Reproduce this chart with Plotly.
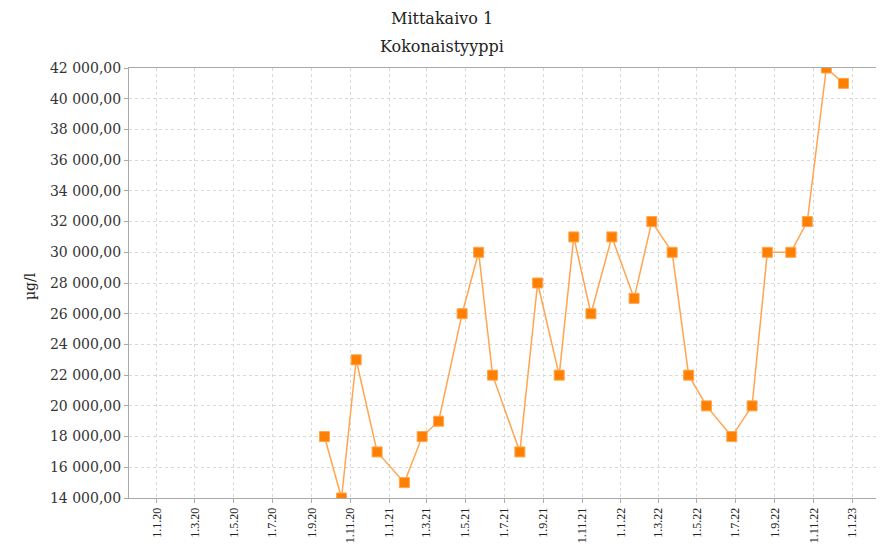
import plotly.graph_objects as go

dates = ["2020-09-21", "2020-10-18", "2020-11-10", "2020-12-13", "2021-01-25", "2021-02-22",
         "2021-03-20", "2021-04-26", "2021-05-22", "2021-06-13", "2021-07-26", "2021-08-23",
         "2021-09-26", "2021-10-19", "2021-11-15", "2021-12-18", "2022-01-22", "2022-02-19",
         "2022-03-23", "2022-04-18", "2022-05-16", "2022-06-25", "2022-07-27", "2022-08-20",
         "2022-09-26", "2022-10-22", "2022-11-21", "2022-12-18"]
values = [18000, 14000, 23000, 17000, 15000, 18000, 19000, 26000, 30000, 22000, 17000, 28000,
          22000, 31000, 26000, 31000, 27000, 32000, 30000, 22000, 20000, 18000, 20000, 30000,
          30000, 32000, 42000, 41000]

tick_dates = ["2020-01-01", "2020-03-01", "2020-05-01", "2020-07-01", "2020-09-01", "2020-11-01",
              "2021-01-01", "2021-03-01", "2021-05-01", "2021-07-01", "2021-09-01", "2021-11-01",
              "2022-01-01", "2022-03-01", "2022-05-01", "2022-07-01", "2022-09-01", "2022-11-01",
              "2023-01-01"]
tick_labels = ["1.1.20", "1.3.20", "1.5.20", "1.7.20", "1.9.20", "1.11.20",
               "1.1.21", "1.3.21", "1.5.21", "1.7.21", "1.9.21", "1.11.21",
               "1.1.22", "1.3.22", "1.5.22", "1.7.22", "1.9.22", "1.11.22",
               "1.1.23"]

title1 = "Mittakaivo 1"
title2 = "Kokonaistyyppi"
y_title = "µg/l"

FONT = "DejaVu Serif"

fig = go.Figure()
fig.add_trace(go.Scatter(
    x=dates, y=values, mode="lines+markers",
    line=dict(color="#FFA54F", width=1.5),
    marker=dict(symbol="square", size=10, color="#FF8000",
                line=dict(color="#FFA54F", width=1)),
    showlegend=False,
))

# page has an ~8px body offset; margins compensate so the plot area sits at x 129-879, y 68-498
fig.update_layout(
    width=884, height=548,
    margin=dict(l=121, r=13, t=60, b=58),
    paper_bgcolor="white", plot_bgcolor="white",
    separators=", ",
    font=dict(family=FONT, color="#333333"),
    xaxis=dict(
        type="date",
        range=["2019-11-18", "2023-02-12"],
        tickmode="array", tickvals=tick_dates, ticktext=tick_labels,
        tickangle=-90, tickfont=dict(size=12, family="Liberation Serif", color="#222222"),
        showgrid=True, gridcolor="#D9D9D9", griddash="3px,3px", gridwidth=1,
        showline=True, linecolor="#AAAAAA", linewidth=1, mirror=True,
        ticks="outside", ticklen=4, tickcolor="#AAAAAA",
        automargin=False, zeroline=False,
    ),
    yaxis=dict(
        range=[14000, 42000], dtick=2000, tick0=14000,
        tickformat=",.2f",
        tickfont=dict(size=14, family=FONT, color="#333333"),
        showgrid=True, gridcolor="#D9D9D9", griddash="3px,3px", gridwidth=1,
        showline=True, linecolor="#AAAAAA", linewidth=1, mirror=True,
        ticks="outside", ticklen=4, tickcolor="#AAAAAA",
        automargin=False, zeroline=False,
    ),
    annotations=[
        dict(text=title1, xref="paper", yref="paper", x=(442 - 129) / 750, y=(498 - 18) / 430,
             xanchor="center", yanchor="middle", showarrow=False,
             font=dict(size=16, family=FONT, color="#222222")),
        dict(text=title2, xref="paper", yref="paper", x=(442 - 129) / 750, y=(498 - 46) / 430,
             xanchor="center", yanchor="middle", showarrow=False,
             font=dict(size=16, family=FONT, color="#222222")),
        dict(text=y_title, xref="paper", yref="paper", x=(30 - 129) / 750, y=(498 - 286) / 430,
             xanchor="center", yanchor="middle", showarrow=False, textangle=-90,
             font=dict(size=14, family=FONT, color="#222222")),
    ],
)

fig.write_html("out.html")
